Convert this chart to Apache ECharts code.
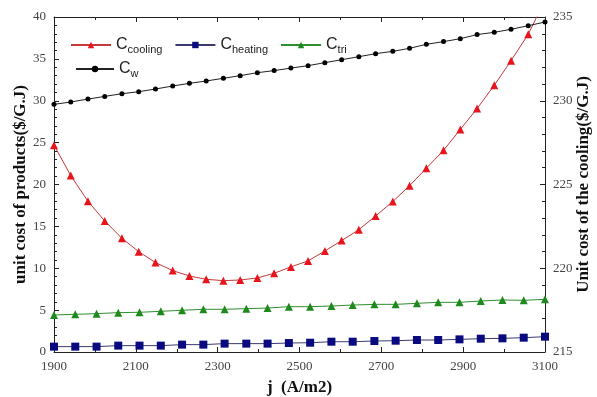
<!DOCTYPE html>
<html>
<head>
<meta charset="utf-8">
<script src="https://cdn.jsdelivr.net/npm/echarts@6/dist/echarts.min.js"></script>
<style>
    html, body { margin: 0; padding: 0; background: #fff; }
    #chart { width: 597px; height: 397px; }
</style>
</head>
<body>
<div id="chart"></div>
<script>
// current density j (A/m2) for the 30-point curves (cooling, w)
var jFine = [1900, 1941, 1983, 2024, 2066, 2107, 2148, 2190, 2231, 2272,
    2314, 2355, 2397, 2438, 2479, 2521, 2562, 2603, 2645, 2686,
    2728, 2769, 2810, 2852, 2893, 2934, 2976, 3017, 3059, 3100];
// current density for the 24-point curves (heating, tri)
var jCoarse = [1900, 1952, 2004, 2057, 2109, 2161, 2213, 2265, 2317, 2370,
    2422, 2474, 2526, 2578, 2630, 2683, 2735, 2787, 2839, 2891,
    2943, 2996, 3048, 3100];

// right axis ($/GJ)
var cCooling = [227.35, 225.53, 224.0, 222.82, 221.79, 220.99, 220.34, 219.86, 219.54, 219.34,
    219.26, 219.3, 219.42, 219.7, 220.08, 220.44, 221.03, 221.65, 222.3, 223.12,
    223.98, 224.93, 225.97, 227.04, 228.29, 229.53, 230.92, 232.39, 233.97, 236.0];
// left axis ($/GJ)
var cW = [29.57, 29.85, 30.2, 30.52, 30.84, 31.08, 31.4, 31.76, 32.08, 32.36,
    32.68, 33.0, 33.35, 33.6, 33.9, 34.19, 34.55, 34.9, 35.26, 35.62,
    35.9, 36.26, 36.74, 37.06, 37.41, 37.9, 38.17, 38.53, 38.96, 39.4];
var cTri = [4.42, 4.5, 4.58, 4.7, 4.74, 4.86, 4.98, 5.1, 5.1, 5.17,
    5.25, 5.41, 5.41, 5.49, 5.61, 5.69, 5.69, 5.81, 5.93, 5.93,
    6.09, 6.21, 6.17, 6.29];
var cHeating = [0.64, 0.64, 0.64, 0.76, 0.76, 0.76, 0.88, 0.88, 1.0, 1.0,
    1.0, 1.07, 1.11, 1.23, 1.23, 1.31, 1.35, 1.43, 1.43, 1.51,
    1.59, 1.63, 1.71, 1.83];

function pairs(xs, ys) {
    var out = [];
    for (var i = 0; i < ys.length; i++) {
        out.push([xs[i], ys[i]]);
    }
    return out;
}

var serif = 'Liberation Serif';
var legendRich = {
    c: {fontFamily: 'Liberation Sans', fontSize: 16, color: '#222'},
    s: {fontFamily: 'Liberation Sans', fontSize: 11, color: '#222', padding: [9, 0, 0, 0]}
};
function legendFmt(name) {
    var sub = {cool: 'cooling', heat: 'heating', tri: 'tri', w: 'w'}[name];
    return '{c|C}{s|' + sub + '}';
}

var axisLine = {lineStyle: {color: '#222', width: 1}};
var tick = {inside: true, length: 5, lineStyle: {color: '#222'}};
var minorX = {show: true, splitNumber: 2, length: 3, lineStyle: {color: '#222'}};
var minorY = {show: true, splitNumber: 5, length: 3, lineStyle: {color: '#222'}};
var label = {fontFamily: serif, fontSize: 13, color: '#444'};
var nameStyle = {fontFamily: serif, fontSize: 17, fontWeight: 'bold', color: '#111'};

var option = {
    backgroundColor: '#fff',
    animation: false,
    grid: {left: 54, right: 52, top: 17, bottom: 45, outerBoundsMode: 'none', containLabel: false},
    legend: [{
        data: ['cool', 'heat', 'tri'],
        left: 65, top: 32,
        itemWidth: 40, itemHeight: 8, itemGap: 12,
        formatter: legendFmt,
        textStyle: {rich: legendRich}
    }, {
        data: ['w'],
        left: 70, top: 56,
        itemWidth: 38, itemHeight: 8,
        formatter: legendFmt,
        textStyle: {rich: legendRich}
    }],
    xAxis: [{
        type: 'value', min: 1900, max: 3100, interval: 200,
        name: 'j  (A/m2)', nameLocation: 'middle', nameGap: 27,
        nameTextStyle: nameStyle,
        axisLine: axisLine, axisTick: tick, minorTick: minorX,
        axisLabel: {fontFamily: serif, fontSize: 13, color: '#444', formatter: function (v) { return String(v); }},
        splitLine: {show: false}
    }, {
        type: 'value', position: 'top', min: 1900, max: 3100, interval: 200,
        axisLine: axisLine, axisTick: tick, minorTick: minorX,
        axisLabel: {show: false}, splitLine: {show: false}
    }],
    yAxis: [{
        type: 'value', min: 0, max: 40, interval: 5,
        name: 'unit cost of products($/G.J)', nameLocation: 'middle', nameGap: 25, nameRotate: 90,
        nameMoveOverlap: false,
        nameTextStyle: nameStyle,
        axisLine: {show: true, lineStyle: {color: '#222', width: 1}},
        axisTick: tick, minorTick: minorY,
        axisLabel: label, splitLine: {show: false}
    }, {
        type: 'value', position: 'right', min: 215, max: 235, interval: 5,
        name: 'Unit cost of the cooling($/G.J)', nameLocation: 'middle', nameGap: 30, nameRotate: 90,
        nameMoveOverlap: false,
        nameTextStyle: nameStyle,
        axisLine: {show: true, lineStyle: {color: '#222', width: 1}},
        axisTick: tick, minorTick: minorY,
        axisLabel: label, splitLine: {show: false}
    }],
    series: [{
        name: 'cool', type: 'line', yAxisIndex: 1, clip: true,
        data: pairs(jFine, cCooling),
        symbol: 'triangle', symbolSize: 8,
        itemStyle: {color: '#e8141c'},
        lineStyle: {color: '#c8383a', width: 1}
    }, {
        name: 'heat', type: 'line',
        data: pairs(jCoarse, cHeating),
        symbol: 'rect', symbolSize: 8,
        itemStyle: {color: '#0a0a80'},
        lineStyle: {color: '#3a3a70', width: 1}
    }, {
        name: 'tri', type: 'line',
        data: pairs(jCoarse, cTri),
        symbol: 'triangle', symbolSize: 8,
        itemStyle: {color: '#1e8a1e'},
        lineStyle: {color: '#2f8f2f', width: 1}
    }, {
        name: 'w', type: 'line',
        data: pairs(jFine, cW),
        symbol: 'circle', symbolSize: 5,
        itemStyle: {color: '#000'},
        lineStyle: {color: '#222', width: 1}
    }]
};

var myChart = echarts.init(document.getElementById('chart'), null, {renderer: 'canvas'});
myChart.setOption(option);
window.onresize = myChart.resize;
</script>
</body>
</html>
